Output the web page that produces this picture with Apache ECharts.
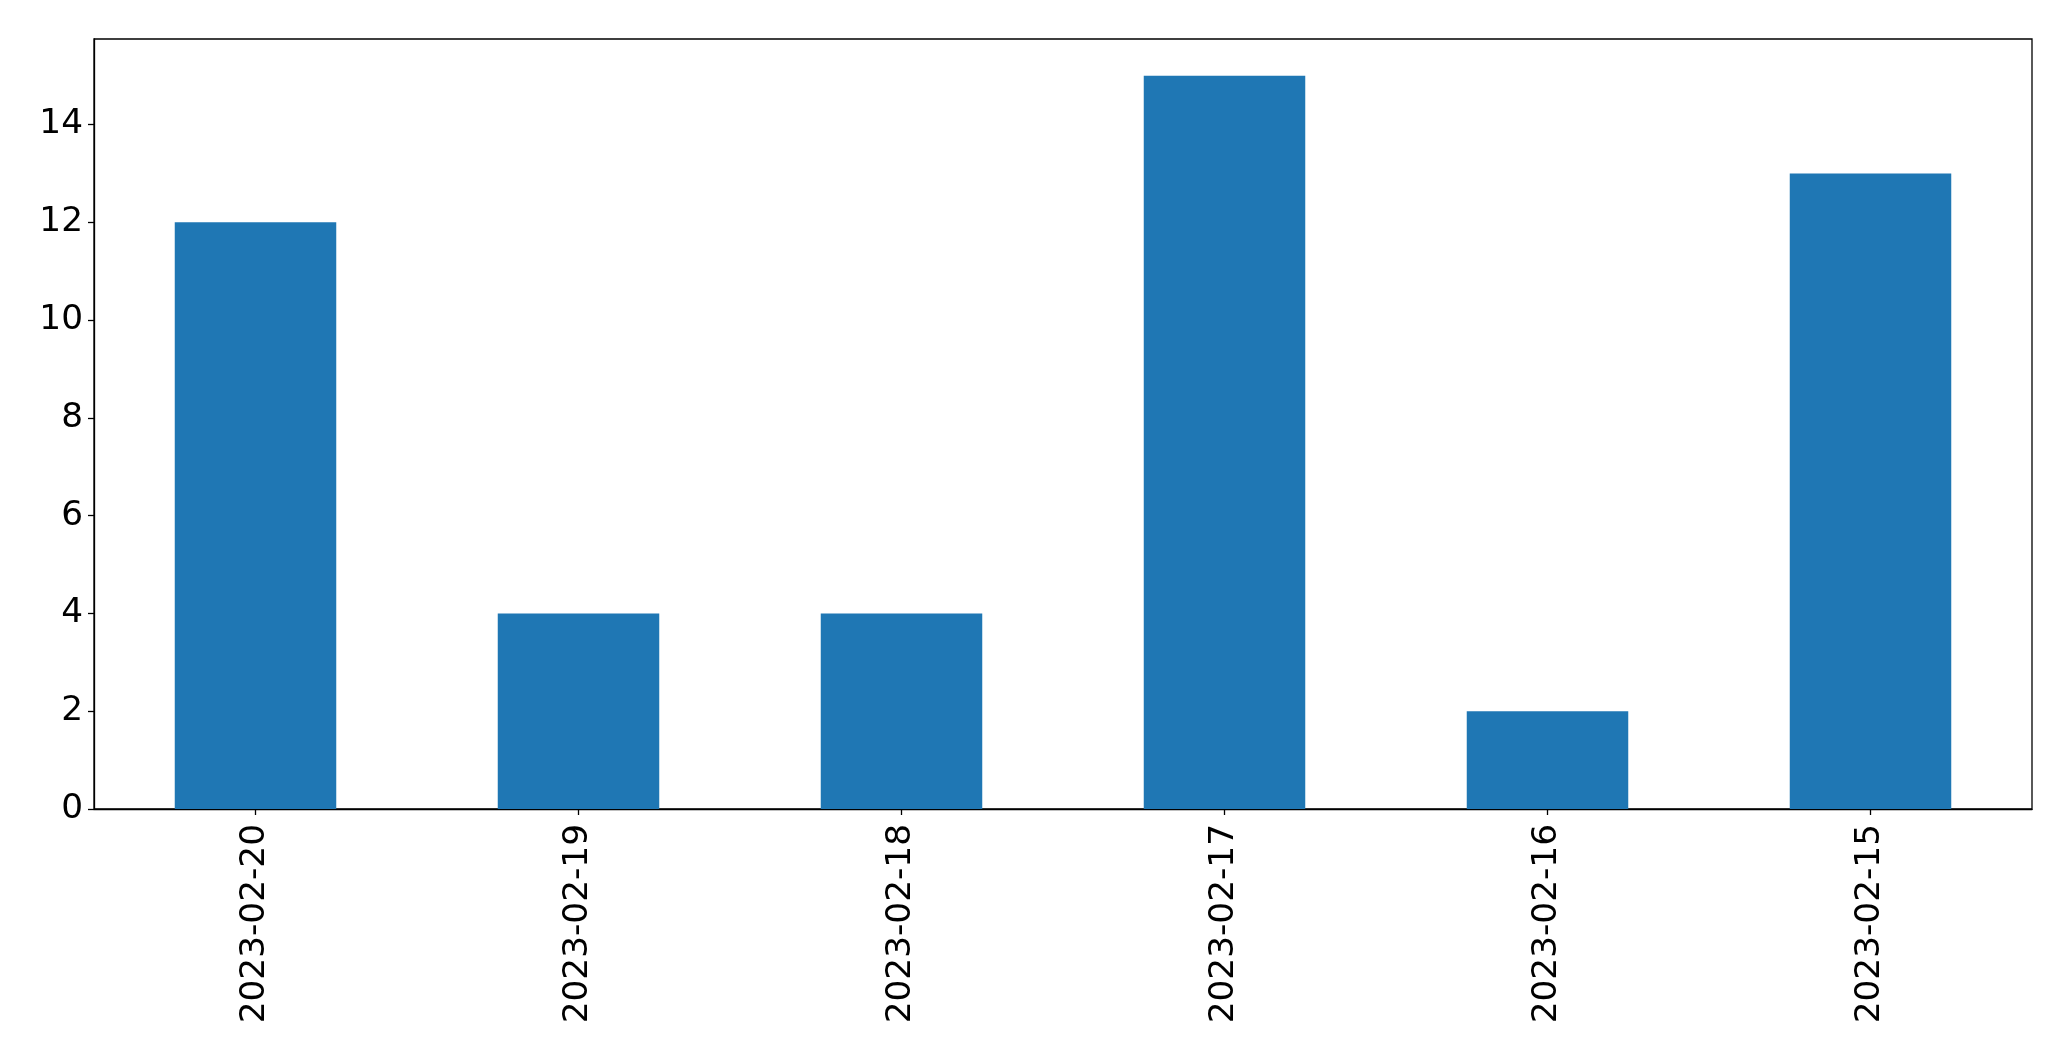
<!DOCTYPE html>
<html>
<head>
<meta charset="utf-8">
<script src="https://cdn.jsdelivr.net/npm/echarts@6/dist/echarts.min.js"></script>
<style>
html,body{margin:0;padding:0;background:#fff;}
#c{width:2071px;height:1061px;}
</style>
</head>
<body>
<div id="c"></div>
<script>
var categories = ['2023-02-20','2023-02-19','2023-02-18','2023-02-17','2023-02-16','2023-02-15'];
var values = [12, 4, 4, 15, 2, 13];
var yTicks = [0, 2, 4, 6, 8, 10, 12, 14];
var yMax = 15.75;

var chart = echarts.init(document.getElementById('c'), null, {renderer: 'canvas'});
var font = 'DejaVu Sans';
chart.setOption({
  animation: false,
  backgroundColor: '#ffffff',
  grid: {
    left: 94, right: 39, top: 39, bottom: 252,
    show: true, borderColor: '#000', borderWidth: 1.3, backgroundColor: 'transparent'
  },
  xAxis: {
    type: 'category',
    data: categories,
    boundaryGap: true,
    axisLine: {show: true, lineStyle: {color: '#000', width: 1.3}},
    axisTick: {show: true, alignWithLabel: true, length: 6, lineStyle: {color: '#000', width: 1.3}},
    axisLabel: {rotate: 90, margin: 15, color: '#000', fontSize: 34.3, fontFamily: font, interval: 0},
    splitLine: {show: false}
  },
  yAxis: {
    type: 'value',
    min: 0, max: yMax, interval: 2,
    axisLine: {show: true, lineStyle: {color: '#000', width: 1.3}},
    axisTick: {show: true, length: 6, lineStyle: {color: '#000', width: 1.3}, customValues: yTicks},
    axisLabel: {color: '#000', fontSize: 34.3, fontFamily: font, margin: 11, customValues: yTicks},
    splitLine: {show: false}
  },
  series: [{
    type: 'bar',
    data: values,
    barWidth: '50%',
    itemStyle: {color: '#1f77b4'}
  }]
});
</script>
</body>
</html>
